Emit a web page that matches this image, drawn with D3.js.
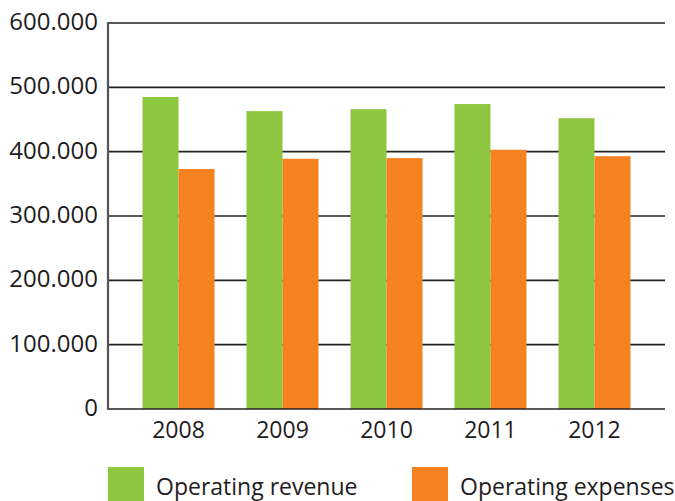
<!DOCTYPE html>
<html>
<head>
<meta charset="utf-8">
<script src="https://cdn.jsdelivr.net/npm/d3@7"></script>
<style>
  body { margin: 0; background: #fff; }
  text { font-family: "Open Sans", sans-serif; fill: #1f1c1d; }
</style>
</head>
<body>
<div id="chart"></div>
<script>
// data
var years = ["2008", "2009", "2010", "2011", "2012"];
var revenue = [485000, 463000, 466000, 474000, 452000];
var expenses = [373000, 389000, 390000, 403000, 393000];
var seriesNames = ["Operating revenue", "Operating expenses"];
var yTicks = [0, 100000, 200000, 300000, 400000, 500000, 600000];

var colors = ["#8dc63f", "#f58220"];
var W = 675, H = 501;
var plotLeft = 108, plotRight = 665, plotTop = 23, plotBottom = 409;

var svg = d3.select("#chart").append("svg")
  .attr("width", W)
  .attr("height", H);

var x = d3.scaleBand()
  .domain(years)
  .range([plotLeft, plotRight])
  .paddingInner(0.3077)
  .paddingOuter(0.332);

var x1 = d3.scaleBand()
  .domain([0, 1])
  .range([0, x.bandwidth()]);

var y = d3.scaleLinear()
  .domain([0, 600000])
  .range([plotBottom, plotTop]);

// grid lines
svg.selectAll("line.grid")
  .data(yTicks.slice(1))
  .enter()
  .append("line")
  .attr("class", "grid")
  .attr("x1", plotLeft)
  .attr("x2", plotRight)
  .attr("y1", function(d){ return y(d); })
  .attr("y2", function(d){ return y(d); })
  .attr("stroke", "#222")
  .attr("stroke-width", 1.6);

// bars
var groups = svg.selectAll("g.year")
  .data(years)
  .enter()
  .append("g")
  .attr("class", "year")
  .attr("transform", function(d){ return "translate(" + x(d) + ",0)"; });

groups.selectAll("rect")
  .data(function(d, i){ return [revenue[i], expenses[i]]; })
  .enter()
  .append("rect")
  .attr("x", function(d, j){ return x1(j); })
  .attr("width", x1.bandwidth())
  .attr("y", function(d){ return y(d); })
  .attr("height", function(d){ return y(0) - y(d); })
  .attr("fill", function(d, j){ return colors[j]; });

// baseline + y axis line
svg.append("line")
  .attr("x1", plotLeft).attr("x2", plotRight)
  .attr("y1", y(0)).attr("y2", y(0))
  .attr("stroke", "#222").attr("stroke-width", 1.6);
svg.append("line")
  .attr("x1", plotLeft).attr("x2", plotLeft)
  .attr("y1", plotTop - 1).attr("y2", y(0) + 1)
  .attr("stroke", "#555").attr("stroke-width", 2.2);

// y tick labels
var fmt = function(d){ return d === 0 ? "0" : d3.format(",")(d).replace(/,/g, "."); };
svg.selectAll("text.ytick")
  .data(yTicks)
  .enter()
  .append("text")
  .attr("class", "ytick")
  .attr("x", plotLeft - 10)
  .attr("y", function(d){ return y(d) + 7; })
  .attr("text-anchor", "end")
  .style("font-size", "24px")
  .text(fmt);

// x labels
svg.selectAll("text.xtick")
  .data(years)
  .enter()
  .append("text")
  .attr("class", "xtick")
  .attr("x", function(d){ return x(d) + x.bandwidth() / 2; })
  .attr("y", 438)
  .attr("text-anchor", "middle")
  .style("font-size", "23px")
  .text(function(d){ return d; });

// legend
var legendX = [108, 412];
var legend = svg.selectAll("g.legend")
  .data(seriesNames)
  .enter()
  .append("g")
  .attr("class", "legend")
  .attr("transform", function(d, i){ return "translate(" + legendX[i] + ",467)"; });
legend.append("rect")
  .attr("width", 36)
  .attr("height", 36)
  .attr("fill", function(d, i){ return colors[i]; });
legend.append("text")
  .attr("x", 48)
  .attr("y", 28)
  .style("font-size", "23px")
  .text(function(d){ return d; });
</script>
</body>
</html>
